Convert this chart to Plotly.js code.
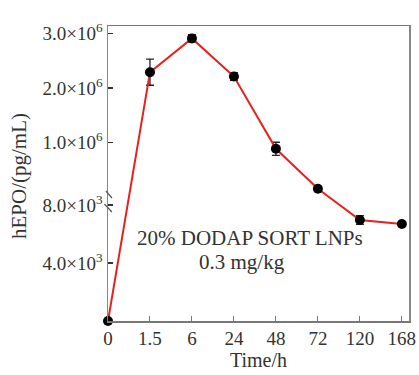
<!DOCTYPE html>
<html>
<head>
<meta charset="utf-8">
<script src="https://cdn.plot.ly/plotly-3.0.1.min.js"></script>
<style>html,body{margin:0;padding:0;background:#fff;}#chart{width:419px;height:375px;}</style>
</head>
<body>
<div id="chart"></div>
<script>
// Data
var timeLabels = ['0', '1.5', '6', '24', '48', '72', '120', '168'];
var hepoValues = [0, 2.29e6, 2.91e6, 2.21e6, 0.885e6, 1.5e5, 6970, 6690];
var hepoErrors = [0, 0.24e6, 0.07e6, 0.07e6, 0.12e6, 0, 300, 0];
var yTickValues = [4000, 8000, 1e6, 2e6, 3e6];
var yTickLabels = ['4.0×10<sup>3</sup>', '8.0×10<sup>3</sup>', '1.0×10<sup>6</sup>', '2.0×10<sup>6</sup>', '3.0×10<sup>6</sup>'];

// Broken-axis transform (lower linear segment + upper linear segment)
var LOW_PER_UNIT = 58 / 4000;
var UP_OFFSET = 124;
var UP_PER_UNIT = 54.5 / 1e6;
var BREAK_VAL = UP_OFFSET / (LOW_PER_UNIT - UP_PER_UNIT);
function tf(v) { return v <= BREAK_VAL ? v * LOW_PER_UNIT : UP_OFFSET + v * UP_PER_UNIT; }

var yDisp = hepoValues.map(tf);
var errPlus = hepoValues.map(function (v, i) { return tf(v + hepoErrors[i]) - tf(v); });
var errMinus = hepoValues.map(function (v, i) { return tf(v) - tf(Math.max(0, v - hepoErrors[i])); });

var serif = 'Liberation Serif, Times New Roman, serif';
var txt = '#333';

var trace = {
  x: timeLabels,
  y: yDisp,
  type: 'scatter',
  mode: 'lines+markers',
  line: {color: '#e8201c', width: 2},
  marker: {color: '#000', size: 10},
  error_y: {type: 'data', symmetric: false, array: errPlus, arrayminus: errMinus,
            color: '#222', thickness: 1.3, width: 4},
  cliponaxis: false,
  hoverinfo: 'skip'
};

var layout = {
  width: 419, height: 375,
  margin: {l: 108, r: 10, t: 26, b: 54},
  paper_bgcolor: '#fff', plot_bgcolor: '#fff',
  showlegend: false,
  font: {family: serif, size: 19, color: txt},
  xaxis: {
    type: 'category',
    range: [0, 7.17],
    showgrid: false, zeroline: false,
    showline: true, linecolor: '#777', linewidth: 1.5, mirror: true,
    ticks: 'inside', ticklen: 5, tickcolor: '#777', tickwidth: 1,
    tickfont: {family: serif, size: 19, color: txt},
    title: {text: 'Time/h', font: {family: serif, size: 20, color: txt}, standoff: 4}
  },
  yaxis: {
    range: [0, 295],
    showgrid: false, zeroline: false,
    showline: true, linecolor: '#888', linewidth: 1.5, mirror: true,
    ticks: 'inside', ticklen: 5, tickcolor: '#333', tickwidth: 1.2,
    tickmode: 'array',
    tickvals: yTickValues.map(tf),
    ticktext: yTickLabels,
    tickfont: {family: serif, size: 19, color: txt}
  },
  annotations: [
    {xref: 'paper', yref: 'paper', x: (19 - 108) / 301, y: (321 - 176) / 295, text: 'hEPO/(pg/mL)',
     textangle: -90, showarrow: false, font: {family: serif, size: 21, color: txt}, xanchor: 'center', yanchor: 'middle'},
    {xref: 'paper', yref: 'paper', x: (250 - 108) / 301, y: (321 - 238) / 295, text: '20% DODAP SORT LNPs',
     showarrow: false, font: {family: serif, size: 21, color: txt}, xanchor: 'center', yanchor: 'middle'},
    {xref: 'paper', yref: 'paper', x: (242 - 108) / 301, y: (321 - 262) / 295, text: '0.3 mg/kg',
     showarrow: false, font: {family: serif, size: 21, color: txt}, xanchor: 'center', yanchor: 'middle'}
  ],
  shapes: [
    {type: 'line', xref: 'paper', yref: 'paper', x0: -0.007, y0: (321 - 191) / 295, x1: 0.013, y1: (321 - 198) / 295,
     line: {color: '#555', width: 1.2}},
    {type: 'line', xref: 'paper', yref: 'paper', x0: -0.012, y0: (321 - 204) / 295, x1: 0.013, y1: (321 - 212) / 295,
     line: {color: '#555', width: 1.2}}
  ]
};

Plotly.newPlot('chart', [trace], layout, {staticPlot: true, displayModeBar: false});
</script>
</body>
</html>
